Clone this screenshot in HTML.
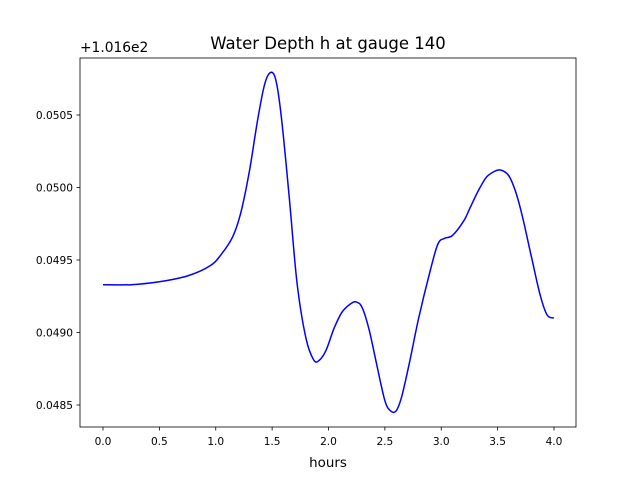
<!DOCTYPE html>
<html><head><meta charset="utf-8"><style>
body{margin:0;background:#fff;font-family:"Liberation Sans","DejaVu Sans",sans-serif;}
svg text{font-family:"DejaVu Sans","Liberation Sans",sans-serif;}
</style></head><body>
<svg id="c" width="640" height="480" viewBox="0 0 640 480">
<rect width="640" height="480" fill="#fff"/>
<text x="328" y="49" font-size="16.5" text-anchor="middle">Water Depth h at gauge 140</text>
<text x="80" y="52" font-size="13.8">+1.016e2</text>
<g id="axes"></g>
<text x="328" y="467" font-size="13.4" text-anchor="middle">hours</text>
</svg>
<script>
const xs=[0,0.25,0.5,0.75,0.95,1.05,1.15,1.22,1.3,1.37,1.43,1.48,1.53,1.58,1.65,1.72,1.8,1.87,1.92,1.98,2.05,2.12,2.2,2.25,2.3,2.36,2.43,2.5,2.55,2.6,2.65,2.72,2.8,2.9,2.97,3.03,3.1,3.2,3.25,3.33,3.4,3.47,3.53,3.6,3.66,3.72,3.8,3.88,3.94,4.0];
const ys=[0.04933,0.04933,0.04935,0.04939,0.04946,0.04954,0.04966,0.04982,0.05012,0.05046,0.05070,0.05079,0.05075,0.05050,0.04995,0.04935,0.04896,0.04881,0.04881,0.04888,0.04903,0.04914,0.04920,0.04921,0.04917,0.04902,0.04877,0.04853,0.04846,0.04846,0.04856,0.04880,0.04910,0.04942,0.04961,0.04965,0.04967,0.04977,0.04985,0.04998,0.05007,0.05011,0.05012,0.05008,0.04997,0.04980,0.04952,0.04925,0.04912,0.04910];
const xticks=[0,0.5,1,1.5,2,2.5,3,3.5,4];
const xtickLabels=["0.0","0.5","1.0","1.5","2.0","2.5","3.0","3.5","4.0"];
const yticks=[0.0485,0.049,0.0495,0.05,0.0505];
const ytickLabels=["0.0485","0.0490","0.0495","0.0500","0.0505"];
const X=v=>103+v*112.75;
const Y=v=>405-(v-0.0485)*145000;
const g=document.getElementById('axes');
const ns="http://www.w3.org/2000/svg";
function mk(t,a){const e=document.createElementNS(ns,t);for(const k in a)e.setAttribute(k,a[k]);g.appendChild(e);return e;}
xticks.forEach((t,i)=>{
 const l=mk('line',{x1:X(t),x2:X(t),y1:427,y2:430.5,stroke:'#000','stroke-width':0.8});
 
 
 const tx=mk('text',{x:X(t),y:445,'font-size':10.6,'text-anchor':'middle'});tx.textContent=xtickLabels[i];
 
 
});
yticks.forEach((t,i)=>{
 const l=mk('line',{x1:76.5,x2:80,y1:Y(t),y2:Y(t),stroke:'#000','stroke-width':0.8});
 
 
 const tx=mk('text',{x:73,y:Y(t)+4,'font-size':10.6,'text-anchor':'end'});tx.textContent=ytickLabels[i];
 
 
});
const P=xs.map((x,i)=>[X(x),Y(ys[i])]);
let d='M'+P[0][0].toFixed(1)+','+P[0][1].toFixed(1);
for(let i=0;i<P.length-1;i++){
 const p0=P[Math.max(i-1,0)],p1=P[i],p2=P[i+1],p3=P[Math.min(i+2,P.length-1)];
 const c1=[p1[0]+(p2[0]-p0[0])/6,p1[1]+(p2[1]-p0[1])/6];
 const c2=[p2[0]-(p3[0]-p1[0])/6,p2[1]-(p3[1]-p1[1])/6];
 d+=' C'+c1.map(v=>v.toFixed(1)).join(',')+' '+c2.map(v=>v.toFixed(1)).join(',')+' '+p2.map(v=>v.toFixed(1)).join(',');
}
const p=mk('path',{d:d,fill:'none',stroke:'#0000ff','stroke-width':1.5,'stroke-linejoin':'round'});


const f=mk('rect',{x:80,y:58,width:496,height:369,fill:'none',stroke:'#000','stroke-width':0.8});


</script>
</body></html>
